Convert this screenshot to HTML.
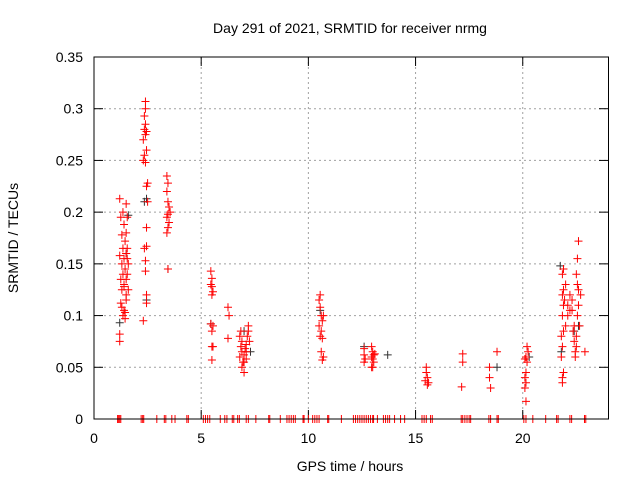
<!DOCTYPE html>
<html><head><meta charset="utf-8"><style>
body{margin:0;background:#fff;}
svg{display:block;font-family:"Liberation Sans",sans-serif;}
</style></head><body>
<svg id="chart" width="640" height="480" xmlns="http://www.w3.org/2000/svg">
<text x="350" y="33" font-size="14" text-anchor="middle">Day 291 of 2021, SRMTID for receiver nrmg</text>
<text transform="translate(18,238) rotate(-90)" font-size="14" text-anchor="middle">SRMTID / TECUs</text>
<text x="350" y="471" font-size="14" text-anchor="middle">GPS time / hours</text>
<g id="grid"></g><g id="axes"></g><g id="black"></g><g id="red"></g>
<rect x="94" y="57" width="514.5" height="362" fill="none" stroke="#000" stroke-width="1"/>
</svg>
<script>
const xTicks=[0,5,10,15,20];
const yTicks=[0,0.05,0.1,0.15,0.2,0.25,0.3,0.35];
const yTickLabels=["0","0.05","0.1","0.15","0.2","0.25","0.3","0.35"];
const redX=[1.2,1.2,1.25,1.3,1.35,1.4,1.45,1.5,1.3,1.4,1.5,1.25,1.35,1.45,1.55,1.3,1.4,1.5,1.2,1.35,1.55,1.45,1.3,1.5,1.4,1.25,1.35,1.2,1.5,1.55,1.6,1.6,1.45,1.4,1.5,1.55,
2.3,2.45,2.45,2.4,2.4,2.35,2.45,2.45,2.5,2.45,2.5,2.3,2.4,2.35,2.45,2.3,2.4,2.35,2.45,2.4,2.35,2.4,2.4,
3.45,3.4,3.45,3.5,3.4,3.45,3.55,3.5,3.45,3.4,3.45,3.4,
5.5,5.55,5.5,5.5,5.55,5.45,5.5,5.55,5.5,5.45,5.5,5.45,
6.25,6.3,6.25,
6.8,6.9,6.85,6.9,6.8,6.95,6.9,7.0,7.0,7.05,7.1,7.15,7.2,7.2,7.1,7.25,6.85,7.0,7.1,
10.55,10.5,10.55,10.6,10.65,10.5,10.6,10.55,10.65,10.6,10.7,10.65,10.7,
12.6,12.6,12.65,12.6,12.95,13.0,12.95,13.05,13.0,13.05,12.95,13.0,13.1,
15.5,15.5,15.55,15.45,15.6,15.55,
17.2,17.2,17.15,
18.45,18.45,18.5,18.8,
20.15,20.1,20.15,20.1,20.15,20.2,20.15,20.25,20.2,20.1,
21.85,21.85,21.9,21.8,21.85,21.8,21.9,22.0,21.85,21.9,21.95,21.85,21.9,21.85,21.9,22.1,22.2,22.1,22.3,22.2,22.3,22.4,22.35,22.4,22.5,22.45,22.45,22.5,22.55,22.6,22.6,22.55,22.5,22.55,22.6,22.7,22.65,22.9,22.0];
const redY=[0.075,0.082,0.112,0.108,0.1,0.105,0.103,0.115,0.125,0.13,0.12,0.135,0.14,0.145,0.14,0.15,0.155,0.16,0.158,0.165,0.165,0.172,0.178,0.18,0.188,0.195,0.2,0.213,0.208,0.195,0.15,0.125,0.097,0.128,0.135,0.155,
0.095,0.12,0.112,0.143,0.153,0.165,0.167,0.185,0.21,0.225,0.228,0.25,0.248,0.255,0.26,0.27,0.275,0.28,0.278,0.285,0.293,0.3,0.307,
0.145,0.18,0.185,0.19,0.195,0.198,0.2,0.205,0.21,0.22,0.228,0.235,
0.057,0.07,0.07,0.085,0.09,0.092,0.12,0.123,0.128,0.13,0.136,0.143,
0.078,0.1,0.108,
0.08,0.075,0.07,0.065,0.06,0.055,0.05,0.045,0.055,0.068,0.072,0.08,0.085,0.09,0.065,0.075,0.085,0.062,0.058,
0.12,0.115,0.108,0.1,0.095,0.09,0.085,0.08,0.078,0.065,0.06,0.057,0.1,
0.068,0.062,0.058,0.055,0.07,0.065,0.06,0.062,0.058,0.055,0.05,0.05,0.063,
0.05,0.045,0.04,0.037,0.035,0.033,
0.063,0.055,0.031,
0.05,0.04,0.03,0.065,
0.017,0.03,0.035,0.04,0.045,0.055,0.06,0.065,0.07,0.058,
0.035,0.04,0.045,0.06,0.07,0.08,0.085,0.09,0.1,0.11,0.115,0.12,0.125,0.14,0.145,0.1,0.105,0.11,0.115,0.12,0.105,0.09,0.085,0.075,0.08,0.065,0.06,0.07,0.1,0.11,0.125,0.13,0.14,0.155,0.172,0.12,0.09,0.065,0.13];
const blackX=[1.2,1.6,2.45,2.45,3.45,5.45,7.3,7.0,10.55,12.6,13.7,18.8,21.8,22.6,22.4,21.75,20.3,2.35,1.5];
const blackY=[0.093,0.197,0.213,0.115,0.145,0.092,0.065,0.085,0.105,0.07,0.062,0.05,0.065,0.09,0.085,0.148,0.06,0.21,0.16];
const zeroX=[1.1,1.15,1.2,1.25,2.2,2.27,2.32,2.93,3.28,3.35,3.63,3.78,4.33,4.4,5.1,5.2,5.3,5.4,5.89,6.1,6.2,6.45,6.52,6.7,6.78,7.1,7.2,7.55,8.15,8.2,8.69,9.0,9.1,9.2,9.3,9.39,9.75,9.8,10.0,10.2,10.3,10.4,10.5,10.9,10.95,11.54,12.1,12.2,12.3,12.4,12.5,12.6,12.7,12.8,12.9,13.0,13.04,13.22,13.5,13.6,13.7,13.79,14.02,14.3,14.49,15.3,15.4,15.5,15.7,15.78,17.13,17.2,17.3,17.4,17.5,17.57,18.42,18.5,18.8,18.86,20.05,20.15,20.47,21.07,21.58,21.65,22.2,22.28,22.88,22.94];
const X=h=>94+h*21.4375, Y=v=>419-v*1034.3;
const NS="http://www.w3.org/2000/svg";
function mk(t,a,p){const e=document.createElementNS(NS,t);for(const k in a)e.setAttribute(k,a[k]);p.appendChild(e);return e;}
const grid=document.getElementById('grid'),axes=document.getElementById('axes');
xTicks.forEach((t,i)=>{const x=X(t);
 if(t>0){const g=mk('line',{x1:x,x2:x,y1:57,y2:419,stroke:'#a0a0a0','stroke-dasharray':'2,3'},grid);
 
 }
 mk('line',{x1:x,x2:x,y1:419,y2:410,stroke:'#000'},axes);
 mk('line',{x1:x,x2:x,y1:57,y2:66,stroke:'#000'},axes);
 const l=mk('text',{x:x,y:443,'font-size':14,'text-anchor':'middle'},axes);l.textContent=t;
 
 
});
yTicks.forEach((t,i)=>{const y=Y(t);
 if(t>0&&t<0.35){const g=mk('line',{x1:94,x2:608,y1:y,y2:y,stroke:'#a0a0a0','stroke-dasharray':'2,3'},grid);
 
 }
 mk('line',{x1:94,x2:103,y1:y,y2:y,stroke:'#000'},axes);
 mk('line',{x1:599,x2:608,y1:y,y2:y,stroke:'#000'},axes);
 const l=mk('text',{x:83,y:y+5,'font-size':14,'text-anchor':'end'},axes);l.textContent=yTickLabels[i];
 
 
});
function plus(g,x,y,c){const p=mk('path',{d:`M${x-4} ${y}h8M${x} ${y-4}v8`,stroke:c,'stroke-width':1,fill:'none'},g);return p;}
const bg=document.getElementById('black'),rg=document.getElementById('red');
blackX.forEach((h,i)=>{const p=plus(bg,X(h),Y(blackY[i]),'#333');
 
 });
zeroX.forEach(h=>{const p=plus(rg,X(h),Y(0),'#f00');
 
 });
redX.forEach((h,i)=>{const p=plus(rg,X(h),Y(redY[i]),'#f00');
 
 });
</script>
</body></html>
